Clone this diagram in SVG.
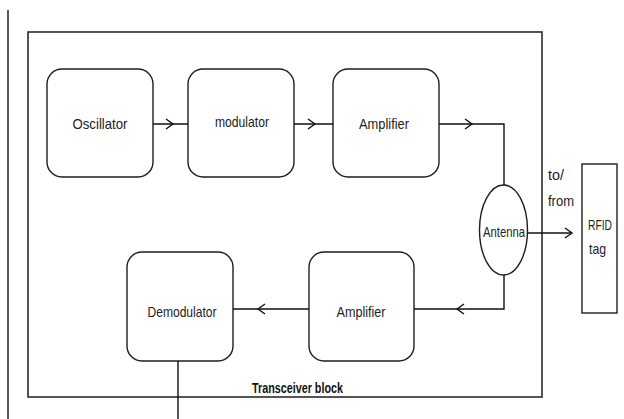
<svg xmlns="http://www.w3.org/2000/svg" xmlns:xlink="http://www.w3.org/1999/xlink" width="624" height="419" viewBox="0 0 624 419">
  <style>
    .frame { fill: none; stroke: #2b2b2b; stroke-width: 1.6; }
    .block { fill: #ffffff; stroke: #1e1e1e; stroke-width: 1.4; }
    .wire { fill: none; stroke: #111111; stroke-width: 1.4; }
    .chev { fill: none; stroke: #111111; stroke-width: 1.4; stroke-linejoin: miter; }
    .label { font-family: "Liberation Sans", Arial, sans-serif; font-size: 14.5px; fill: #222222; }
    .side { font-family: "Liberation Sans", Arial, sans-serif; font-size: 15px; fill: #222222; }
    .mid { text-anchor: middle; }
    .title { font-family: "Liberation Sans", Arial, sans-serif; font-size: 14.5px; font-weight: bold; fill: #111111; }
  </style>
  <defs>
    <!-- open chevron arrowhead, tip at the origin, pointing along +x -->
    <path id="chev" class="chev" d="M-7,-5 L0,0 L-7,5"/>
  </defs>

  <rect width="624" height="419" fill="#ffffff"/>

  <!-- left margin rule -->
  <line x1="8" y1="10" x2="8" y2="419" class="frame"/>

  <!-- transceiver enclosure -->
  <g id="transceiver">
    <rect x="28" y="32" width="514" height="365" class="frame"/>
    <text x="252" y="393" class="title" textLength="91" lengthAdjust="spacingAndGlyphs">Transceiver block</text>
  </g>

  <g id="oscillator">
    <rect x="47" y="69" width="106" height="108" rx="15" class="block"/>
    <text x="100" y="129" class="label mid" textLength="55" lengthAdjust="spacingAndGlyphs">Oscillator</text>
  </g>

  <g id="modulator">
    <rect x="188" y="69" width="106" height="108" rx="15" class="block"/>
    <text x="242" y="127" class="label mid" textLength="54" lengthAdjust="spacingAndGlyphs">modulator</text>
  </g>

  <g id="amplifier-tx">
    <rect x="333" y="69" width="106" height="108" rx="15" class="block"/>
    <text x="384" y="129" class="label mid" textLength="50" lengthAdjust="spacingAndGlyphs">Amplifier</text>
  </g>

  <g id="antenna">
    <ellipse cx="503.5" cy="230" rx="24" ry="45" class="block"/>
    <text x="504" y="237" class="label mid" textLength="42" lengthAdjust="spacingAndGlyphs">Antenna</text>
  </g>

  <g id="rfid-tag">
    <rect x="582" y="164" width="35" height="149" class="block"/>
    <text x="588" y="230" class="side" textLength="24" lengthAdjust="spacingAndGlyphs">RFID</text>
    <text x="589" y="254" class="side" textLength="17" lengthAdjust="spacingAndGlyphs">tag</text>
  </g>

  <g id="amplifier-rx">
    <rect x="309" y="252" width="105" height="109" rx="15" class="block"/>
    <text x="361" y="317" class="label mid" textLength="49" lengthAdjust="spacingAndGlyphs">Amplifier</text>
  </g>

  <g id="demodulator">
    <rect x="127" y="252" width="106" height="109" rx="15" class="block"/>
    <text x="182" y="317" class="label mid" textLength="69" lengthAdjust="spacingAndGlyphs">Demodulator</text>
  </g>

  <g id="connectors">
    <!-- transmit chain -->
    <line x1="153" y1="124" x2="188" y2="124" class="wire"/>
    <use xlink:href="#chev" href="#chev" transform="translate(173,124)"/>
    <line x1="294" y1="124" x2="333" y2="124" class="wire"/>
    <use xlink:href="#chev" href="#chev" transform="translate(315,124)"/>
    <polyline points="439,124 504,124 504,185" class="wire"/>
    <use xlink:href="#chev" href="#chev" transform="translate(472,124)"/>

    <!-- antenna to tag -->
    <line x1="527.5" y1="233" x2="572" y2="233" class="wire"/>
    <use xlink:href="#chev" href="#chev" transform="translate(572,233)"/>
    <text x="548" y="180" class="side" textLength="16" lengthAdjust="spacingAndGlyphs">to/</text>
    <text x="548" y="206" class="side" textLength="26" lengthAdjust="spacingAndGlyphs">from</text>

    <!-- receive chain -->
    <polyline points="504,275 504,309 414,309" class="wire"/>
    <use xlink:href="#chev" href="#chev" transform="translate(457,309) rotate(180)"/>
    <line x1="309" y1="309" x2="233" y2="309" class="wire"/>
    <use xlink:href="#chev" href="#chev" transform="translate(258,309) rotate(180)"/>

    <!-- demodulator output -->
    <line x1="178" y1="361" x2="178" y2="419" class="wire"/>
  </g>
</svg>
